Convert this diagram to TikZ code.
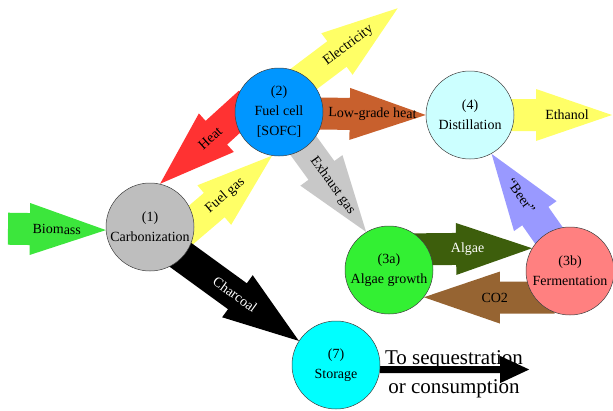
\documentclass[tikz,border=0pt]{standalone}
\usepackage{fontspec}
\setmainfont{Liberation Serif}
\usetikzlibrary{calc,arrows.meta}
\pgfdeclarelayer{back}
\pgfsetlayers{back,main}
\definecolor{carbgray}{RGB}{190,190,190}
\definecolor{cellblue}{RGB}{0,150,255}
\definecolor{distcyan}{RGB}{204,255,255}
\definecolor{algaegreen}{RGB}{51,240,51}
\definecolor{fermred}{RGB}{255,128,128}
\definecolor{storcyan}{RGB}{0,255,255}
\definecolor{biogreen}{RGB}{60,230,60}
\definecolor{gasyellow}{RGB}{255,255,102}
\definecolor{heatred}{RGB}{255,50,50}
\definecolor{lowheat}{RGB}{200,96,45}
\definecolor{exhaustgray}{RGB}{200,200,200}
\definecolor{beerblue}{RGB}{153,153,255}
\definecolor{algaedark}{RGB}{61,94,12}
\definecolor{cotwo}{RGB}{150,100,50}
\tikzset{
  station/.style={circle, draw=black!75, line width=0.5pt, minimum size=88pt, inner sep=0pt, align=center, font=\fontsize{14}{20}\selectfont},
  flowlabel/.style={inner sep=0pt, font=\fontsize{14}{16}\selectfont},
}
\newcommand{\flow}[5]{\fill[#1] let \p1 = (#2), \p2 = (#3), \n1 = {atan2(\y2-\y1,\x2-\x1)}, \n2 = {veclen(\x2-\x1,\y2-\y1)}, \n3 = {mod(\n1+450,180)-90} in [shift={(\p1)}, rotate=\n1] (-20pt,-16pt) -- ({\n2*1pt-76pt},-16pt) -- ({\n2*1pt-76pt},-26pt) -- ({\n2*1pt},0pt) -- ({\n2*1pt-76pt},26pt) -- ({\n2*1pt-76pt},16pt) -- (-20pt,16pt) -- cycle node[flowlabel, rotate=\n3] at ({#5*\n2*1pt},0pt) {#4};}

\begin{document}
\begin{tikzpicture}[x=1pt, y=-1pt]
  \useasboundingbox (0,0) rectangle (613,410);

  \node[station, fill=carbgray] (carb) at (150,227) {(1)\\Carbonization};
  \node[station, fill=cellblue] (fuel) at (279,112) {(2)\\Fuel cell\\{[SOFC]}};
  \node[station, fill=distcyan] (dist) at (470,115) {(4)\\Distillation};
  \node[station, fill=algaegreen] (alg) at (389,270) {(3a)\\Algae growth};
  \node[station, fill=fermred] (ferm) at (570,271) {(3b)\\Fermentation};
  \node[station, fill=storcyan] (stor) at (336,365) {(7)\\Storage};

  \coordinate (bio) at (28,229);
  \coordinate (elec) at (398,8);
  \coordinate (eth) at (612,115);
  \coordinate (seq) at (530,369.5);

  \node[font=\fontsize{21}{29}\selectfont, align=center] (seqtext) at (454,374) {To sequestration\\or consumption};

  \begin{pgfonlayer}{back}
    \flow{fill=biogreen}{bio}{carb.184}{Biomass}{0.37}
    \flow{fill=gasyellow}{carb.6}{fuel.-99}{Fuel gas}{0.4}
    \flow{fill=heatred}{fuel.185}{carb.77}{Heat}{0.33}
    \flow{fill=gasyellow}{fuel.52}{elec}{Electricity}{0.46}
    \flow{fill=lowheat}{fuel.-2}{dist.180}{Low-grade heat}{0.48}
    \flow{fill=gasyellow}{dist.0}{eth}{Ethanol}{0.54}
    \flow{fill=exhaustgray}{fuel.-54}{alg.121}{Exhaust gas}{0.45}
    \flow{fill=algaedark, text=white}{alg.28}{ferm.149}{Algae}{0.38}
    \flow{fill=cotwo}{ferm.217}{alg.-38}{CO2}{0.36}
    \flow{fill=beerblue}{ferm.121}{dist.-61}{“Beer”}{0.47}
    \flow{fill=black, text=white}{carb.-42}{stor.147}{Charcoal}{0.45}
    \draw[line width=7pt, -{Triangle[length=30pt, width=25pt]}] (stor.-6) -- (seq);
  \end{pgfonlayer}
\end{tikzpicture}
\end{document}
